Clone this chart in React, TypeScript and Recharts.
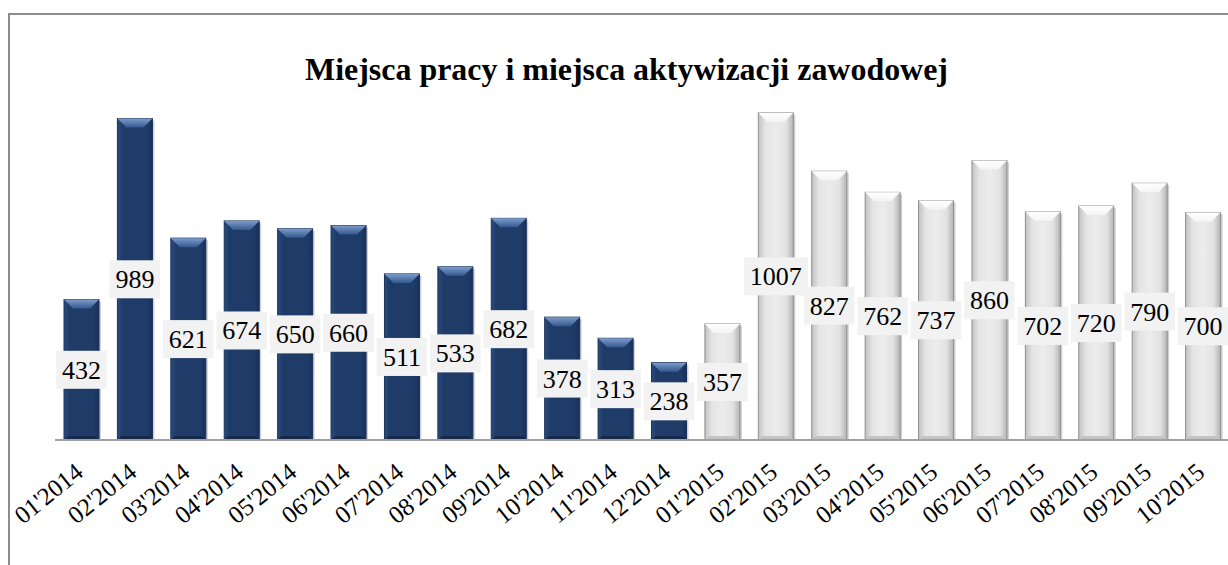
import { BarChart, Bar, XAxis, YAxis, LabelList } from "recharts";

const months = [
  "01'2014", "02'2014", "03'2014", "04'2014", "05'2014", "06'2014",
  "07'2014", "08'2014", "09'2014", "10'2014", "11'2014", "12'2014",
  "01'2015", "02'2015", "03'2015", "04'2015", "05'2015", "06'2015",
  "07'2015", "08'2015", "09'2015", "10'2015",
];
const values = [432, 989, 621, 674, 650, 660, 511, 533, 682, 378, 313, 238, 357, 1007, 827, 762, 737, 860, 702, 720, 790, 700];
const title = "Miejsca pracy i miejsca aktywizacji zawodowej";

const data = months.map((m, i) => ({ month: m, value: values[i], y2014: m.endsWith("2014") }));

const serif = "'Liberation Serif', 'Times New Roman', serif";

function BevelBar(props: any) {
  const { x, y, width, height, payload } = props;
  if (height <= 0) return null;
  const navy = payload.y2014;
  const b = Math.min(9, height / 2);
  const id = navy ? "n" : "g";
  return (
    <g>
      <rect x={x + 2} y={y + 2} width={width} height={height - 1} fill="rgba(0,0,0,0.18)" />
      <rect x={x} y={y} width={width} height={height} fill={`url(#${id}Body)`} stroke={navy ? "#1a3158" : "#8f8f8f"} strokeWidth={1} />
      <polygon points={`${x},${y} ${x + width},${y} ${x + width - b},${y + b} ${x + b},${y + b}`} fill={`url(#${id}Top)`} />
      <polygon points={`${x},${y + height} ${x + width},${y + height} ${x + width - 4},${y + height - 4} ${x + 4},${y + height - 4}`} fill={navy ? "#15294a" : "#c4c4c4"} />
    </g>
  );
}

function ValueLabel(props: any) {
  const { x, y, width, height, value } = props;
  const s = String(value);
  const w = s.length * 13.5 + 10;
  const h = 38;
  const cx = x + width / 2;
  const cy = y + height / 2;
  return (
    <g>
      <rect x={cx - w / 2} y={cy - h / 2} width={w} height={h} fill="#f2f2f2" />
      <text x={cx} y={cy + 9} textAnchor="middle" fontFamily={serif} fontSize={26} fill="#000">{s}</text>
    </g>
  );
}

function MonthTick(props: any) {
  const { x, y, payload } = props;
  return (
    <text transform={`translate(${x + 3},${y + 35}) rotate(-39)`} textAnchor="end" fontFamily={serif} fontSize={25} fill="#000">
      {payload.value}
    </text>
  );
}

export default function App() {
  return (
    <div style={{ position: "fixed", left: 0, top: 0, width: 1228, height: 565, overflow: "hidden", background: "#fff" }}>
      <div style={{ position: "absolute", left: 8, top: 13, width: 1240, height: 600, border: "2px solid #8c8c8c", boxSizing: "border-box" }} />
      <svg style={{ position: "absolute", left: 0, top: 0 }} width={1228} height={100}>
        <text x={305} y={80} textLength={643} lengthAdjust="spacingAndGlyphs" fontFamily={serif} fontWeight="bold" fontSize={31} fill="#000">
          {title}
        </text>
      </svg>
      <div style={{ position: "absolute", left: 10, top: 15 }}>
        <BarChart width={1225} height={530} data={data} margin={{ top: 35, right: 5, left: 45, bottom: 0 }} barSize={35}>
          <defs>
            <linearGradient id="nBody" x1="0" y1="0" x2="1" y2="0">
              <stop offset="0" stopColor="#2a4c7e" />
              <stop offset="0.15" stopColor="#1f3c69" />
              <stop offset="0.85" stopColor="#1f3c69" />
              <stop offset="1" stopColor="#16305a" />
            </linearGradient>
            <linearGradient id="nTop" x1="0" y1="0" x2="0" y2="1">
              <stop offset="0" stopColor="#7d9ccb" />
              <stop offset="1" stopColor="#34588e" />
            </linearGradient>
            <linearGradient id="gBody" x1="0" y1="0" x2="1" y2="0">
              <stop offset="0" stopColor="#c2c2c2" />
              <stop offset="0.2" stopColor="#e4e4e4" />
              <stop offset="0.5" stopColor="#ececec" />
              <stop offset="0.8" stopColor="#e2e2e2" />
              <stop offset="1" stopColor="#b4b4b4" />
            </linearGradient>
            <linearGradient id="gTop" x1="0" y1="0" x2="0" y2="1">
              <stop offset="0" stopColor="#ffffff" />
              <stop offset="1" stopColor="#f4f4f4" />
            </linearGradient>
          </defs>
          <XAxis dataKey="month" interval={0} tickLine={false} tickSize={0} tickMargin={0} height={105}
                 axisLine={{ stroke: "#a0a0a0", strokeWidth: 2 }} tick={<MonthTick />} />
          <YAxis hide domain={[0, 1200]} />
          <Bar dataKey="value" shape={<BevelBar />} isAnimationActive={false}>
            <LabelList dataKey="value" content={<ValueLabel />} />
          </Bar>
        </BarChart>
      </div>
    </div>
  );
}
